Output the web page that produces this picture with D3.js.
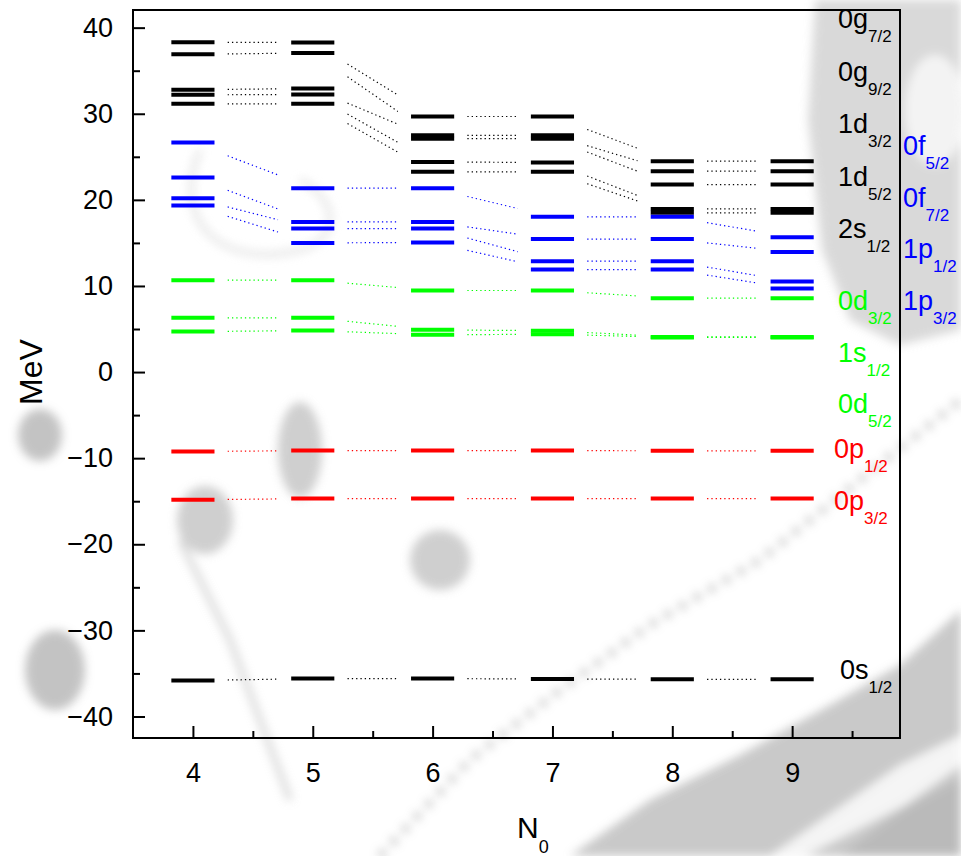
<!DOCTYPE html>
<html lang="en">
<head>
  <meta charset="UTF-8">
  <title>Single-particle levels vs N0</title>
  <script src="https://d3js.org/d3.v7.min.js"></script>
  <style>
    body { margin: 0; background: #fff; }
    text { font-family: "Liberation Sans", Arial, sans-serif; }
  </style>
</head>
<body>
<svg width="961" height="856"></svg>
<script>
// basis size N0 on the x axis
var n0 = [4, 5, 6, 7, 8, 9];

// black levels (MeV), top to bottom
var g72 = [38.3, 38.27, 29.68, 29.68, 24.49, 24.49];
var g92 = [36.9, 37.07, 27.5, 27.5, 23.33, 23.33];
var d32b = [32.8, 32.93, 27.1, 27.1, 21.78, 21.78];
var d52b = [32.2, 32.23, 24.41, 24.33, 18.95, 18.95];
var s12b = [31.15, 31.15, 23.25, 23.25, 18.49, 18.49];

// blue levels
var f52 = [26.65, 21.36, 21.36, 18.03, 18.03, 15.67];
var f72 = [22.6, 17.44, 17.44, 15.44, 15.44, 13.93];
var p12b = [20.2, 16.67, 16.67, 12.88, 12.88, 10.51];
var p32b = [19.35, 15.0, 15.05, 11.9, 11.9, 9.7];

// green levels
var d32g = [10.67, 10.67, 9.47, 9.47, 8.58, 8.58];
var s12g = [6.3, 6.3, 4.9, 4.8, 4.08, 4.08];
var d52g = [4.7, 4.82, 4.32, 4.4, 4.02, 4.02];

// red levels
var p12r = [-9.23, -9.12, -9.12, -9.12, -9.15, -9.15];
var p32r = [-14.84, -14.69, -14.69, -14.69, -14.69, -14.69];

// deepest level
var s12 = [-35.83, -35.6, -35.6, -35.65, -35.68, -35.68];

var yTicks = [-40, -30, -20, -10, 0, 10, 20, 30, 40];
var yMinor = [-35, -25, -15, -5, 5, 15, 25, 35];
var xMinor = [4.5, 5.5, 6.5, 7.5, 8.5, 9.5];

var blackNames = [["0g", "7/2"], ["0g", "9/2"], ["1d", "3/2"], ["1d", "5/2"], ["2s", "1/2"]];
var blueNames = [["0f", "5/2"], ["0f", "7/2"], ["1p", "1/2"], ["1p", "3/2"]];
var greenNames = [["0d", "3/2"], ["1s", "1/2"], ["0d", "5/2"]];
var redNames = [["0p", "1/2"], ["0p", "3/2"]];

var groups = [
  {color: "#000000", series: [g72, g92, d32b, d52b, s12b, s12]},
  {color: "#0000ff", series: [f52, f72, p12b, p32b]},
  {color: "#00ff00", series: [d32g, s12g, d52g]},
  {color: "#ff0000", series: [p12r, p32r]}
];

var svg = d3.select("svg");
var pL = 133, pR = 900, pT = 10, pB = 738;

var x = d3.scaleLinear().domain([3.5, 9.9]).range([pL, pR]);
var y = d3.scaleLinear().domain([-42.5, 42.05]).range([pB, pT]);

// faint grey texture behind the plot
var defs = svg.append("defs");
defs.append("filter").attr("id", "soft")
  .append("feGaussianBlur").attr("stdDeviation", 5);
var bg = svg.append("g").attr("filter", "url(#soft)").attr("opacity", 0.75);
bg.append("path").attr("fill", "#b8b8b8")
  .attr("d", "M570,856 L650,800 L740,755 L830,705 L900,665 L961,610 L961,856 Z");
bg.append("path").attr("fill", "#f2f2f2")
  .attr("d", "M770,856 L900,765 L961,735 L961,765 L905,805 L805,856 Z");
bg.append("path").attr("fill", "#a4a4a4")
  .attr("d", "M840,856 L905,808 L961,778 L961,856 Z");
bg.append("path").attr("fill", "#cdcdcd")
  .attr("d", "M815,0 L961,0 L961,330 L900,345 L850,320 L822,250 L808,120 Z");
bg.append("ellipse").attr("fill", "#f0f0f0").attr("cx", 935).attr("cy", 110).attr("rx", 30).attr("ry", 55);
bg.append("path").attr("fill", "none").attr("stroke", "#b0b0b0")
  .attr("stroke-width", 7).attr("stroke-dasharray", "7,10")
  .attr("d", "M380,856 L470,760 L560,690 L650,625 L760,560 L860,480 L961,400");
bg.append("ellipse").attr("fill", "#b0b0b0").attr("cx", 40).attr("cy", 435).attr("rx", 22).attr("ry", 26);
bg.append("ellipse").attr("fill", "#b0b0b0").attr("cx", 55).attr("cy", 670).attr("rx", 30).attr("ry", 40);
bg.append("ellipse").attr("fill", "#c0c0c0").attr("cx", 205).attr("cy", 520).attr("rx", 28).attr("ry", 34);
bg.append("ellipse").attr("fill", "#c0c0c0").attr("cx", 300).attr("cy", 450).attr("rx", 22).attr("ry", 48);
bg.append("ellipse").attr("fill", "#c0c0c0").attr("cx", 440).attr("cy", 560).attr("rx", 30).attr("ry", 30);
bg.append("path").attr("fill", "none").attr("stroke", "#cccccc").attr("stroke-width", 6)
  .attr("d", "M180,540 L230,640 L260,720 L290,800");
bg.append("path").attr("fill", "none").attr("stroke", "#e0e0e0").attr("stroke-width", 6)
  .attr("d", "M200,150 C170,220 220,270 300,250 C340,240 340,200 300,180");

// connectors between neighbouring N0 values, drawn along the line through bar centres
var half = 0.18, t0 = 0.29, t1 = 0.71;
var links = svg.append("g");
var bars = svg.append("g");
groups.forEach(function(grp) {
  grp.series.forEach(function(vals) {
    for (var i = 0; i < n0.length - 1; i++) {
      var xa = n0[i], xb = n0[i + 1], va = vals[i], vb = vals[i + 1];
      links.append("line")
        .attr("x1", x(xa + (xb - xa) * t0)).attr("y1", y(va + (vb - va) * t0))
        .attr("x2", x(xa + (xb - xa) * t1)).attr("y2", y(va + (vb - va) * t1))
        .attr("stroke", grp.color).attr("stroke-width", 1.2)
        .attr("stroke-dasharray", "1.3,3");
    }
    bars.selectAll(null).data(vals).enter().append("line")
      .attr("x1", function(d, i) { return x(n0[i] - half); })
      .attr("x2", function(d, i) { return x(n0[i] + half); })
      .attr("y1", function(d) { return y(d); })
      .attr("y2", function(d) { return y(d); })
      .attr("stroke", grp.color).attr("stroke-width", 4);
  });
});

// axes with inward ticks
var yAxis = svg.append("g").attr("transform", "translate(" + pL + ",0)")
  .call(d3.axisLeft(y).tickValues(yTicks).tickSize(-12).tickPadding(20).tickFormat(d3.format("d")));
svg.append("g").attr("transform", "translate(" + pL + ",0)")
  .call(d3.axisLeft(y).tickValues(yMinor).tickSize(-7).tickFormat(""));
var xAxis = svg.append("g").attr("transform", "translate(0," + pB + ")")
  .call(d3.axisBottom(x).tickValues(n0).tickSize(-12).tickPadding(25).tickFormat(d3.format("d")));
svg.append("g").attr("transform", "translate(0," + pB + ")")
  .call(d3.axisBottom(x).tickValues(xMinor).tickSize(-7).tickFormat(""));
svg.selectAll(".domain").remove();
svg.selectAll(".tick line").attr("stroke", "#000").attr("stroke-width", 2);
yAxis.selectAll("text").style("font-size", "27px").attr("fill", "#000");
xAxis.selectAll("text").style("font-size", "27px").attr("fill", "#000");

svg.append("rect").attr("x", pL).attr("y", pT)
  .attr("width", pR - pL).attr("height", pB - pT)
  .attr("fill", "none").attr("stroke", "#000").attr("stroke-width", 2);

// axis titles
svg.append("text").attr("transform", "translate(42,372) rotate(-90)")
  .attr("text-anchor", "middle").style("font-size", "32px").text("MeV");
var xt = svg.append("text").attr("x", 517).attr("y", 838).style("font-size", "30px");
xt.append("tspan").text("N");
xt.append("tspan").attr("dy", 15).style("font-size", "18px").text("0");

// level names
function label(name, color, lx, ly) {
  var t = svg.append("text").attr("x", lx).attr("y", ly).attr("fill", color).style("font-size", "27px");
  t.append("tspan").text(name[0]);
  t.append("tspan").attr("dy", 14).style("font-size", "17px").text(name[1]);
}
blackNames.forEach(function(nm, i) { label(nm, "#000", 838, 28 + 52.6 * i); });
blueNames.forEach(function(nm, i) { label(nm, "#0000ff", 903, 155 + 51.7 * i); });
greenNames.forEach(function(nm, i) { label(nm, "#00ff00", 838, 310 + 51.7 * i); });
redNames.forEach(function(nm, i) { label(nm, "#ff0000", 834, 458 + 51.7 * i); });
label(["0s", "1/2"], "#000", 840, 679);
</script>
</body>
</html>
